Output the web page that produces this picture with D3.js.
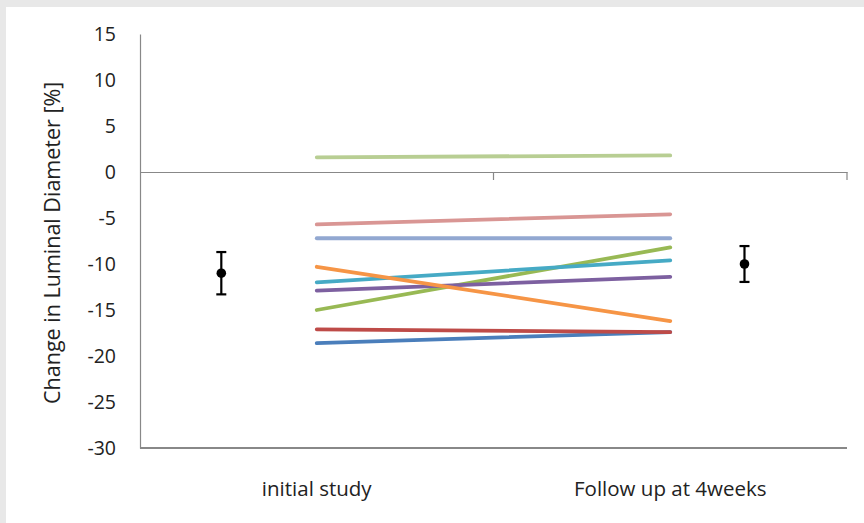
<!DOCTYPE html>
<html>
<head>
<meta charset="utf-8">
<script src="https://cdn.jsdelivr.net/npm/d3@7"></script>
<style>
  body { margin: 0; background: #e8e8e8; }
  #chart { position: absolute; left: 6px; top: 7px; width: 858px; height: 516px; background: #fff; }
  text { font-family: "Open Sans", "Noto Sans", sans-serif; fill: #222; }
</style>
</head>
<body>
<div id="chart"></div>
<script>
// categories and tick labels
var categories = ["initial study", "Follow up at 4weeks"];
var yTicks = [15, 10, 5, 0, -5, -10, -15, -20, -25, -30];

// one pair of values per patient: [initial, follow up]
var seriesNames = ["p1", "p2", "p3", "p4", "p5", "p6", "p7", "p8", "p9"];
var seriesValues = [
    [-18.6, -17.4],
    [-17.1, -17.4],
    [-15.0, -8.2],
    [-12.9, -11.4],
    [-12.0, -9.6],
    [-10.3, -16.2],
    [-7.2, -7.2],
    [-5.7, -4.6],
    [1.6, 1.8]
];
var seriesColors = ["#4A7EBB", "#BE4B48", "#98B954", "#7D60A0", "#46AAC5", "#F69546", "#92A8D1", "#D99694", "#B8CE93"];

// mean +/- sd, on a secondary 0..10 x axis
var meanPos = [1.15, 8.55];
var meanValues = [-11.0, -10.0];
var meanErr = [2.3, 1.95];

var svgWidth = 864, svgHeight = 523;
var margin = { top: 34, right: 17, bottom: 75, left: 140 };
var chartWidth = svgWidth - margin.left - margin.right;
var chartHeight = svgHeight - margin.top - margin.bottom;

var svg = d3.select("body").append("svg")
    .attr("width", svgWidth)
    .attr("height", svgHeight)
    .style("position", "absolute").style("left", 0).style("top", 0);

var chartGroup = svg.append("g")
    .attr("transform", `translate(${margin.left}, ${margin.top})`);

var yScale = d3.scaleLinear().domain([-30, 15]).range([chartHeight, 0]);
var xBand = d3.scaleBand().domain(categories).range([0, chartWidth]);
var xPos = d3.scaleLinear().domain([0, 10]).range([0, chartWidth]);

// y axis
var leftAxis = d3.axisLeft(yScale).tickValues(yTicks).tickSize(0).tickPadding(24)
    .tickFormat(d => String(d));
var yAxisG = chartGroup.append("g").call(leftAxis);
yAxisG.select(".domain").attr("stroke", "#888").attr("stroke-width", 1.2);
yAxisG.selectAll("text")
    .attr("font-size", 19.5)
    .attr("fill", "#222")
    .style("font-family", "'Open Sans', sans-serif");

// bottom line at -30
chartGroup.append("line")
    .attr("x1", 0).attr("x2", chartWidth)
    .attr("y1", yScale(-30)).attr("y2", yScale(-30))
    .attr("stroke", "#888").attr("stroke-width", 2);

// category axis at y = 0
var bottomAxis = d3.axisBottom(xBand).tickSize(0).tickFormat("");
var xAxisG = chartGroup.append("g")
    .attr("transform", `translate(0, ${yScale(0)})`)
    .call(bottomAxis);
xAxisG.select(".domain").attr("stroke", "#888").attr("stroke-width", 1.2);
var bounds = categories.map(c => xBand(c)).concat([chartWidth]);
xAxisG.selectAll(".bnd").data(bounds.slice(1)).enter().append("line")
    .attr("x1", d => d).attr("x2", d => d)
    .attr("y1", 0).attr("y2", 8)
    .attr("stroke", "#888").attr("stroke-width", 1.2);

// category labels
chartGroup.selectAll(".cat").data(categories).enter().append("text")
    .attr("x", d => xBand(d) + xBand.bandwidth() / 2)
    .attr("y", chartHeight + 48)
    .attr("text-anchor", "middle")
    .attr("font-size", 20.5)
    .text(d => d);

// y axis title
chartGroup.append("text")
    .attr("transform", "rotate(-90)")
    .attr("x", -(yScale(-7.7)))
    .attr("y", -margin.left + 60)
    .attr("text-anchor", "middle")
    .attr("font-size", 21.5)
    .text("Change in Luminal Diameter [%]");

// patient lines
var line = d3.line()
    .x((d, i) => xBand(categories[i]) + xBand.bandwidth() / 2)
    .y(d => yScale(d));

chartGroup.selectAll(".series").data(seriesValues).enter().append("path")
    .attr("d", d => line(d))
    .attr("fill", "none")
    .attr("stroke", (d, i) => seriesColors[i])
    .attr("stroke-width", 3.8)
    .attr("stroke-linecap", "round");

// mean with error bars
var errG = chartGroup.selectAll(".err").data(meanValues).enter().append("g");
errG.append("line")
    .attr("x1", (d, i) => xPos(meanPos[i])).attr("x2", (d, i) => xPos(meanPos[i]))
    .attr("y1", (d, i) => yScale(d + meanErr[i])).attr("y2", (d, i) => yScale(d - meanErr[i]))
    .attr("stroke", "#000").attr("stroke-width", 2.2);
[1, -1].forEach(function(s) {
    errG.append("line")
        .attr("x1", (d, i) => xPos(meanPos[i]) - 5).attr("x2", (d, i) => xPos(meanPos[i]) + 5)
        .attr("y1", (d, i) => yScale(d + s * meanErr[i])).attr("y2", (d, i) => yScale(d + s * meanErr[i]))
        .attr("stroke", "#000").attr("stroke-width", 2.2);
});
errG.append("circle")
    .attr("cx", (d, i) => xPos(meanPos[i]))
    .attr("cy", d => yScale(d))
    .attr("r", 4.8)
    .attr("fill", "#000");
</script>
</body>
</html>
